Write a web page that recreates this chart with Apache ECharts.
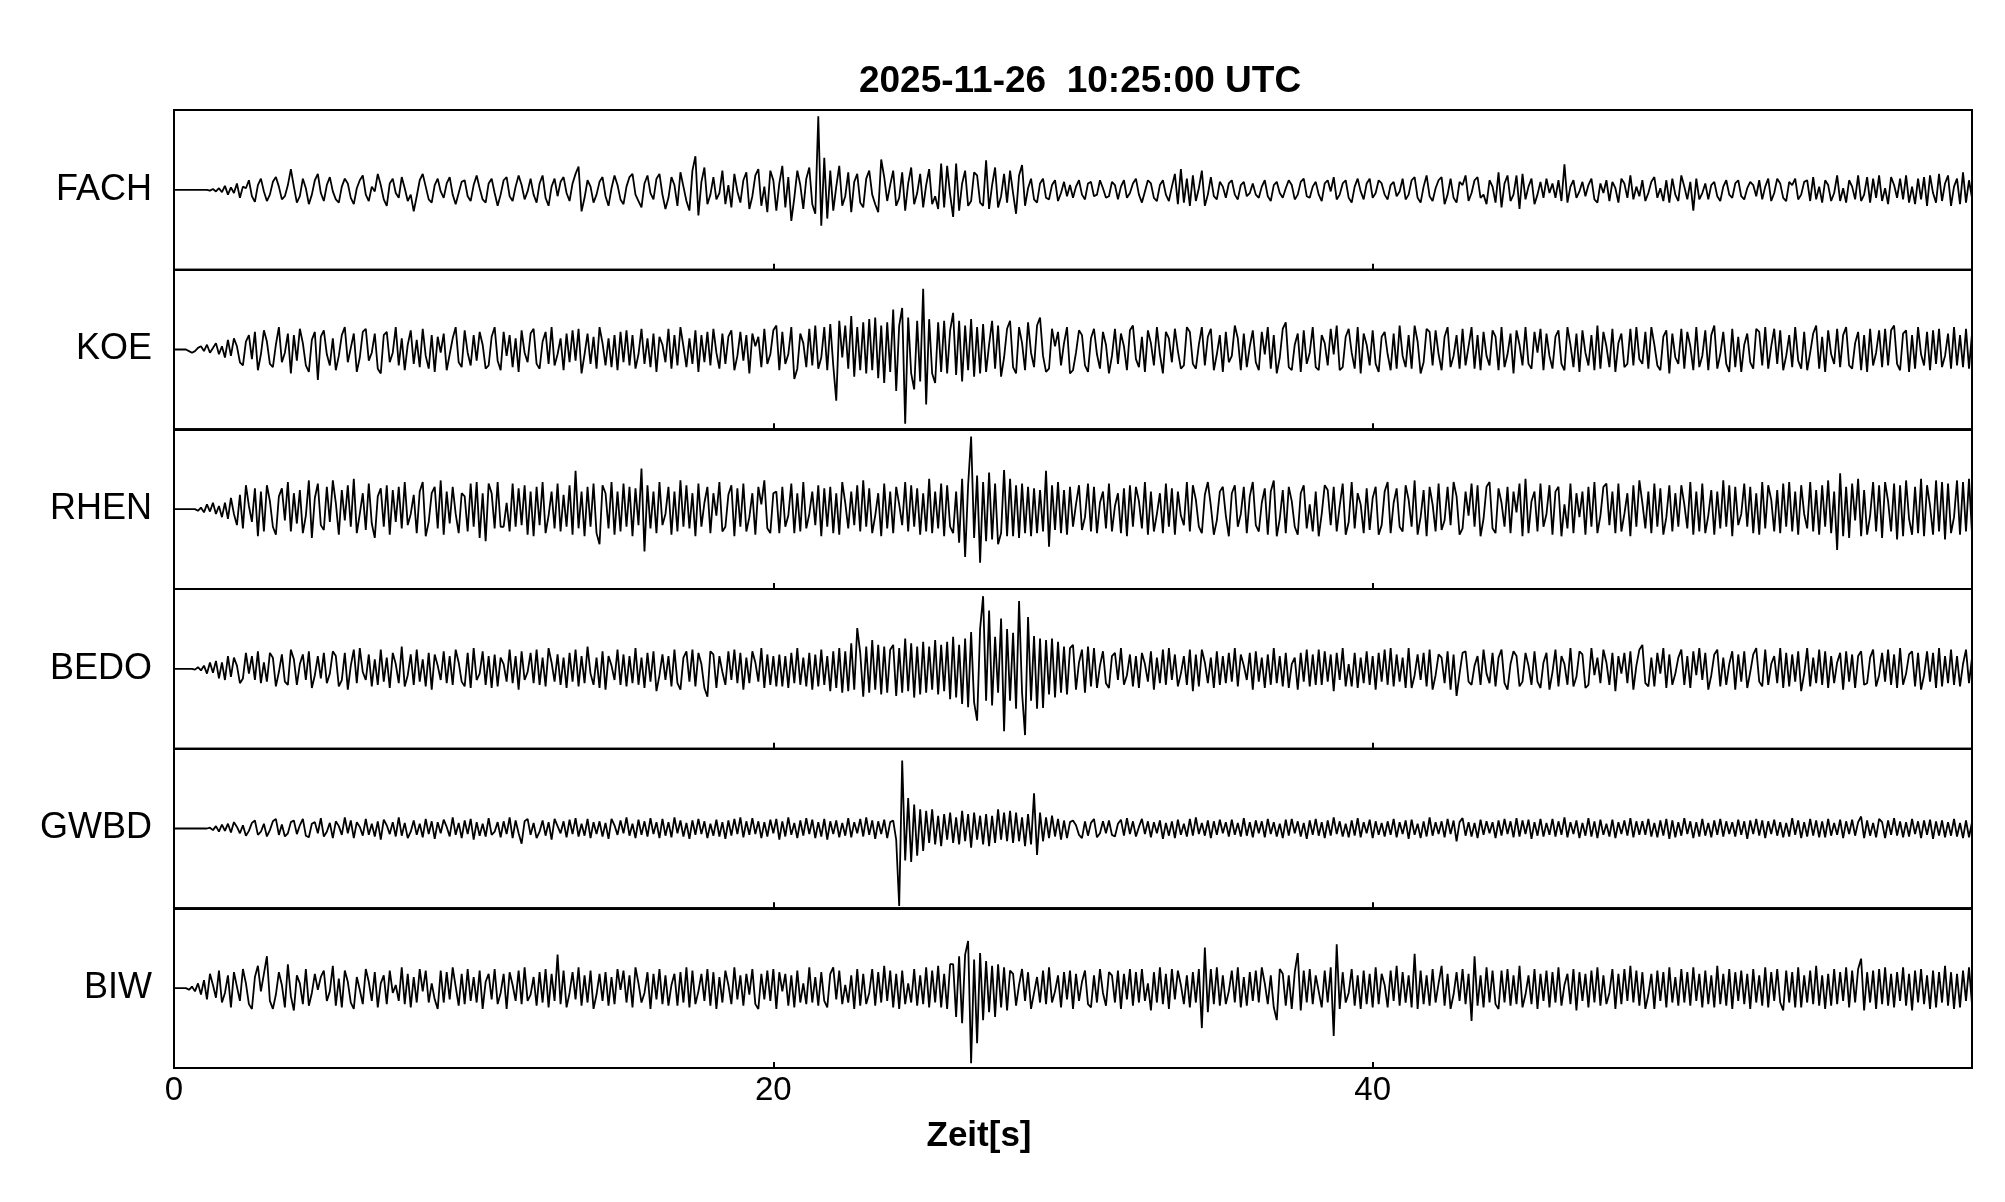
<!DOCTYPE html>
<html><head><meta charset="utf-8">
<script src="https://cdn.jsdelivr.net/npm/echarts@6/dist/echarts.min.js"></script>
<style>html,body{margin:0;padding:0;background:#fff}#c{width:2005px;height:1202px}</style>
</head><body><div id="c"></div>
<script>
const titleText = '2025-11-26  10:25:00 UTC';
const xAxisName = 'Zeit[s]';
const stations = ['FACH', 'KOE', 'RHEN', 'BEDO', 'GWBD', 'BIW'];
const DT = 0.1; // sample spacing in seconds
const xMin = 0, xMax = 60, xStep = 20;

const fach = [
0,0,0,0,0,0,0,0,0,0,
0,0,-1,1,-2,2,-3,5,-6,3,
-4,8,-10,4,2,12,-8,-15,6,14,
-2,-14,-6,10,16,4,-12,-8,6,26,
4,-16,-8,14,2,-18,-6,12,20,-4,
-14,6,16,-2,-12,-16,4,14,8,-10,
-18,2,12,18,-6,-14,4,-2,20,6,
-12,-20,8,14,-4,-10,16,2,-14,-6,
-27,-8,12,20,4,-12,-16,6,14,-2,
-10,8,16,-6,-18,-4,10,12,-8,-14,
6,18,2,-12,-16,8,14,-4,-20,-6,
12,16,-8,-14,4,18,6,-12,-2,14,
-6,-16,8,18,-10,-20,4,14,-8,10,
16,-4,-14,8,20,29,-27,-10,12,4,
-16,-6,10,16,-8,-20,2,18,6,-12,
-18,4,16,20,-6,-14,-22,8,18,-4,
-12,14,20,-6,-24,-10,16,6,-20,22,
4,-14,-26,24,42,-32,10,28,-18,-6,
16,-12,-4,24,-18,6,-22,20,-2,-16,
12,22,-24,-8,18,26,-20,4,-28,24,
12,-26,8,30,-22,16,-39,-10,24,6,
-24,14,28,-18,-30,92,-45,40,-36,24,
-26,4,30,-20,-8,22,-28,10,20,-16,
-22,14,24,-6,-18,-28,38,16,-14,6,
24,-20,-10,22,-26,8,28,-18,-4,20,
-22,6,26,-18,-8,-24,33,-22,30,-6,
-34,33,-26,8,24,-20,-14,22,18,-16,
-20,37,-24,6,28,-22,-8,20,-16,24,
-4,-30,18,31,-20,2,14,-12,-16,8,
14,-10,-12,6,12,-14,-4,10,-8,6,
-10,4,12,-6,-12,8,10,-8,-6,12,
2,-10,-8,10,6,-12,4,12,-10,-4,
8,14,-6,-16,-2,12,8,-10,-14,6,
12,-6,-14,4,20,-18,26,-16,14,-20,
18,-14,2,24,-20,-6,16,-8,-12,10,
4,-10,8,12,-6,-12,6,10,-8,-4,
8,-6,-10,4,12,-8,-14,6,10,-4,
-10,2,12,6,-12,-6,10,14,-8,-10,
4,10,-6,-14,8,12,-2,16,-12,-6,
8,12,-10,-16,4,14,-2,-12,8,14,
-10,-4,12,8,-6,-12,6,10,-8,-2,
14,-12,-6,12,16,-10,-16,4,18,-8,
-14,2,12,16,-18,-6,14,-10,-16,10,
6,18,-14,-4,12,16,-10,-6,-18,12,
4,-16,22,-22,8,18,-14,-6,18,-24,
20,-12,4,14,-18,-6,10,-10,14,-4,
8,-10,12,-14,32,-16,4,12,-10,-2,
10,-8,6,14,-12,-16,8,-4,12,-14,
10,2,-16,14,8,-10,18,-12,4,-8,
12,-14,-4,10,16,-10,2,-14,12,-16,
14,-6,-14,18,4,-12,10,-26,14,-12,
-4,8,-12,6,10,-8,-14,4,12,-6,
-10,8,12,-8,-12,2,10,6,-8,12,
-12,4,14,-14,-4,14,8,-10,-14,10,
6,14,-12,-6,10,12,-14,16,-12,4,
-16,12,6,-14,-4,18,-14,2,-16,12,
4,-12,18,-14,-6,16,-16,14,-10,18,
-14,2,-18,16,6,-10,14,-12,18,-16,
4,-18,14,-12,16,-20,18,-4,-16,20,
-14,8,18,-20,4,14,-18,22,-16,12,
-10];

const koe = [
0,0,0,0,0,-2,-4,-2,2,4,
-2,6,-4,2,8,-6,4,-10,12,-8,
14,4,-16,-20,10,18,-12,22,-26,-6,
24,10,-18,-22,6,28,-16,-4,20,-30,
18,-14,26,8,-20,-28,12,22,-38,16,
24,-6,-20,14,-26,-8,18,28,-16,2,
20,-28,-10,22,26,-14,-4,20,-24,-30,
18,22,-16,-4,28,-20,14,-26,6,24,
-18,12,-22,26,-8,-24,18,-28,16,-4,
20,-26,-6,14,28,-16,-22,24,-4,-20,
18,-14,22,6,-24,-20,16,28,-14,-26,
22,-8,18,-22,14,-28,24,-4,-16,20,
26,-18,-24,10,22,-18,28,-20,-6,14,
-26,20,-16,24,-14,26,-30,-6,20,-18,
16,-24,28,8,-20,14,-22,18,-26,22,
-16,24,-20,18,-24,-6,26,-18,14,-22,
20,-28,16,6,-16,26,-24,18,-20,28,
4,-22,14,-18,24,-28,18,-16,22,-20,
26,-4,-24,20,-18,16,24,-26,-8,22,
-14,18,-30,20,4,16,-22,26,-18,-6,
24,30,-26,22,-18,-6,28,-37,-24,20,
8,-22,26,-20,30,-24,-10,28,-26,32,
-20,-64,36,-10,30,-24,42,-34,28,-26,
34,-30,38,-26,40,-36,30,-42,34,-28,
50,-52,30,52,-93,40,-30,-50,36,-40,
76,-69,38,-30,-42,34,-28,36,-30,24,
46,-32,36,-40,30,-26,38,-34,28,-30,
32,-28,6,36,-24,30,-34,-10,26,36,
-22,-30,28,8,-26,34,-4,-22,30,40,
-8,-28,-24,26,4,22,-20,8,28,-30,
-26,-4,24,18,-20,-28,14,26,-6,-24,
22,6,-30,-8,26,-18,20,4,-26,24,
30,-12,-22,16,-28,24,8,-20,28,-6,
-30,22,14,-16,26,-2,-24,-20,28,22,
-18,-24,6,28,-20,16,26,-26,-6,18,
-28,22,-16,-8,30,14,-26,20,-22,4,
24,-16,-26,22,-6,28,-24,18,-30,-10,
26,34,-22,-26,6,20,-28,24,-18,-4,
28,-22,-26,18,8,-20,26,-6,30,-26,
-22,16,26,-4,-24,28,-30,20,6,-20,
24,-18,-28,16,22,-6,-26,20,-24,30,
-8,-22,18,-24,30,10,-30,-16,26,22,
-20,24,-6,-26,16,28,-22,-8,18,-24,
26,-20,4,28,-24,18,-26,22,-8,-20,
24,16,-26,28,-22,-6,20,-30,24,6,
-20,28,-18,-24,22,-4,26,-26,20,-8,
-24,16,24,-18,-26,28,6,-22,20,-28,
24,-4,-20,18,-26,30,-24,22,4,-22,
26,-28,8,20,-22,-18,26,-20,28,-12,
-18,22,-24,28,6,-20,-26,16,24,-30,
20,-10,-18,26,-24,22,4,-26,28,-22,
-8,24,-26,18,30,-24,-6,22,-18,-28,
26,-22,16,-28,6,20,-16,-24,26,22,
-20,28,-24,4,26,-18,24,-26,-8,18,
-22,28,-14,-24,22,-26,-4,20,30,-24,
16,-28,24,-6,-18,26,-22,18,28,-20,
-24,8,22,-26,18,-28,26,-20,-4,24,
-22,26,-20,24,30,-18,-26,20,24,-28,
18,-24,28,-6,-20,22,-26,24,-18,26,
-22,-8,20,-24,28,-20,18,-22,26,-24,
20];

const rhen = [
0,0,0,0,0,0,0,0,-2,2,
-4,6,-3,8,-6,4,-10,8,-12,14,
-6,-20,18,-24,30,4,-16,26,-34,22,
-28,30,10,-22,-32,16,26,-14,34,-28,
20,-18,24,-30,-8,36,-36,14,32,-20,
-26,28,-16,36,8,-32,24,-14,30,-22,
38,-30,-6,20,-26,32,-18,-36,16,26,
-22,30,-32,24,-16,28,-24,34,-20,-6,
18,-30,22,34,-34,-16,20,28,-24,36,
-32,22,-18,28,-6,-30,20,16,-28,32,
-22,34,-36,20,-40,32,20,-24,34,-22,
-22,8,-28,32,-22,26,-20,30,-32,22,
-34,28,-20,34,-30,-8,22,-24,32,-28,
18,-22,30,-32,48,-24,22,-34,28,-22,
32,-30,-44,30,20,-24,34,-32,22,-28,
32,-22,28,-34,26,-20,51,-53,30,-24,
22,-30,34,-20,-6,28,-32,22,-28,36,
-22,30,-24,20,-34,32,-22,8,28,-30,
20,-8,34,-28,-22,18,30,-34,26,-22,
32,-28,-10,20,-32,28,6,36,-24,-30,
20,22,-30,28,-22,-8,32,-30,20,-28,
34,-24,-6,22,-20,30,-34,26,-22,28,
-30,20,-32,34,8,-24,22,-20,30,-28,
36,-22,26,-30,-8,20,-34,32,-24,22,
-30,28,6,-20,34,-28,30,-22,26,-32,
20,-28,38,-30,22,-24,32,-34,30,-22,
-30,22,-42,38,-60,30,91,-36,42,-67,
34,-40,46,-38,32,-44,-30,49,-34,38,
-34,30,-36,32,-30,28,-34,26,-30,24,
-28,48,-47,30,-26,34,-30,24,-32,28,
-22,6,30,-26,-10,32,-28,28,-30,8,
22,-24,32,-28,4,20,-30,26,-34,30,
-22,28,10,-24,34,-32,22,-28,-6,20,
-30,32,-22,26,-32,22,-8,-20,34,-28,
30,12,-22,-30,18,34,4,-32,-14,22,
28,-8,-34,20,30,-22,-6,28,-30,16,
34,-20,-28,8,26,-32,22,36,-34,-12,
24,-30,28,10,-22,-32,20,30,-24,6,
-28,22,-34,-6,30,24,-20,28,-28,4,
32,-32,-16,34,-24,20,6,-30,26,-26,
14,28,-32,-20,22,34,-30,8,26,-22,
-28,30,12,-22,36,-32,-10,24,-34,28,
6,-28,32,-26,-14,28,-20,34,16,-32,
-24,22,-8,32,-22,30,-34,-12,28,34,
-24,-30,26,8,-22,28,-30,22,-4,32,
-34,38,-30,10,22,-28,32,-22,-6,30,
-32,22,28,-34,6,-24,32,-30,20,-10,
22,-32,28,-22,34,-30,-8,28,32,-20,
22,-30,32,-28,-6,20,-34,30,-22,36,
8,-24,22,-30,32,-22,26,-32,-10,30,
-28,20,-22,30,6,-24,34,-32,22,-28,
32,-30,-8,24,-32,22,-24,36,-22,30,
-34,28,-20,-6,32,-22,28,-30,20,-32,
34,-24,30,12,-28,24,-30,32,-22,34,
-28,22,-32,30,-6,-24,34,-28,24,-32,
30,-22,36,-30,22,-51,45,-34,28,-36,
32,-14,38,-34,24,-32,-8,34,-28,30,
-36,34,10,-28,32,-38,30,-34,36,-12,
-32,28,-30,38,-34,30,4,-32,36,-28,
34,-38,32,-30,-10,36,-32,34,-28,38,
-30];

const bedo = [
0,0,0,0,0,0,0,-1,2,-2,
4,-6,8,-5,10,-12,8,-14,16,-10,
14,4,-18,-12,20,-6,16,-14,22,-18,
8,-16,20,14,-22,-4,18,-16,-20,24,
12,-20,6,18,-14,22,-24,-8,16,-12,
20,-18,-6,22,16,-22,-14,20,-26,4,
24,-18,26,-4,-14,18,-22,12,-20,24,
-16,14,-24,20,6,-18,28,-22,-8,18,
-20,24,-16,12,-22,20,-26,18,4,-14,
22,-18,16,-20,24,8,-16,-22,20,-24,
26,-14,-6,22,-20,16,-24,18,-22,14,
6,-16,24,-18,16,-26,22,-14,-4,20,
-18,24,-20,14,-22,26,8,-16,18,-20,
14,-24,20,-16,24,-22,16,-18,28,-6,
-20,14,-24,22,-26,16,4,-14,24,-20,
18,-22,16,-18,26,-20,14,-24,20,-16,
22,-28,-8,18,-14,16,-22,24,-18,-26,
14,22,-16,24,-22,20,6,-24,-35,22,
18,-24,16,-4,-20,22,-14,24,-18,20,
-26,14,-18,22,8,-16,26,-24,18,-20,
16,-22,18,-22,16,-24,20,-18,26,-20,
14,-22,20,-26,18,-22,24,-20,16,-28,
22,-24,26,-30,22,-28,32,-26,51,20,
-35,28,-30,36,-26,30,-32,28,-30,24,
30,-34,26,-30,38,-28,32,-36,28,-32,
34,-30,28,-26,36,-32,30,-28,34,-38,
40,-36,30,-44,38,-48,46,-42,-65,50,
91,-40,73,-46,40,-30,63,-78,50,-40,
45,-50,85,-30,-83,65,-40,41,-50,38,
-49,36,-32,38,-36,34,-30,28,-32,26,
30,-26,8,24,-30,28,-22,26,-24,4,
22,-18,-24,16,20,-14,26,-20,-8,18,
-22,16,-24,20,6,-16,22,-26,14,-18,
24,-20,26,-14,18,-22,-6,16,-20,24,
-28,18,-22,24,8,-18,14,-24,22,-20,
16,-18,20,-16,26,-22,18,4,-14,20,
-26,22,-16,14,-24,18,-20,26,-18,16,
-22,20,-24,6,14,-26,20,-16,24,-22,
18,-20,24,-20,22,-16,18,-28,20,-14,
26,-22,6,-22,20,-24,14,-18,22,-20,
16,-26,20,-16,24,-20,26,-22,18,-16,
14,-24,26,-24,-8,18,-14,20,-22,24,
-26,-8,18,14,-18,22,-26,18,-34,-6,
20,22,-16,-20,4,16,-20,24,-6,-18,
20,-22,14,24,-18,-26,6,22,16,-22,
-16,20,4,-20,22,-16,-24,8,20,-26,
-4,24,-22,16,6,-20,26,-22,-10,22,
18,-24,-20,26,-8,14,-18,24,8,-20,
20,-28,16,-6,20,-18,22,-26,4,24,
30,-18,-22,14,-22,20,-6,26,-24,18,
-20,-6,14,24,-20,16,-24,22,-8,26,
-14,20,-26,-8,18,24,-22,14,-20,6,
22,-26,18,-16,22,-24,-4,18,26,-16,
-22,24,-20,6,16,-18,26,-24,20,-22,
18,-16,22,-28,-6,26,-22,14,-18,24,
-20,22,-24,16,-18,8,20,-26,22,-16,
18,-24,16,22,-20,-18,14,24,-22,-8,
20,-16,24,-20,18,-24,26,-20,-6,18,
22,-22,20,-26,-8,22,-16,20,-24,26,
-22,16,-18,24,-20,16,-22,6,24,-18,
14];

const gwbd = [
0,0,0,0,0,0,0,0,0,0,
0,0,1,-2,3,-4,5,-3,6,-5,
8,2,-6,4,-9,-3,7,10,-8,-4,
6,-10,-2,9,12,-8,5,-10,-6,8,
10,-7,4,12,-9,-11,6,8,-6,13,
-10,-4,7,-12,9,3,-8,14,-6,10,
-12,8,2,-9,12,-8,6,-10,9,-14,
11,4,-7,8,-10,14,-9,7,-12,-4,
10,-8,6,-11,12,-7,9,-13,8,-6,
11,2,-10,14,-8,7,-12,10,-7,12,
-14,8,-9,6,-10,13,-8,-4,8,-11,
9,-7,14,-12,10,-6,-19,9,12,-8,
7,-12,-4,10,-9,8,-14,12,3,-6,
9,-11,11,-7,13,-10,6,-9,12,-12,
8,-7,9,-10,7,-13,12,4,-8,10,
-6,14,-9,6,-12,11,-8,9,-10,13,
-7,8,-12,12,-9,8,-11,14,-6,10,
-10,7,-13,10,-8,12,-7,9,-12,6,
-9,11,-10,8,-13,10,-9,12,-7,14,
-11,9,-8,13,-7,9,-12,8,-10,11,
-6,12,-14,9,-10,14,-8,7,-12,10,
-9,13,-7,11,-12,8,-10,12,-14,9,
-7,10,-11,7,-9,13,-11,8,-6,12,
-10,14,-8,10,-13,9,-7,11,-12,8,
10,-14,-97,85,-40,38,-42,30,-34,24,
-28,22,-18,24,-20,16,-22,18,-14,20,
-18,14,-20,22,-16,18,-24,20,-14,16,
-20,18,-22,16,-18,24,-14,20,-16,22,
-18,20,-16,14,-22,18,-20,44,-33,20,
-16,14,-12,16,-10,12,-14,10,-12,8,
10,4,-8,-12,9,-9,7,12,-11,-6,
9,-6,10,-8,-10,6,11,-9,13,-7,
9,-10,2,12,-7,9,-11,8,-6,10,
-13,7,-9,9,-12,11,-8,6,-10,12,
-9,14,-7,7,-9,10,-12,9,-8,11,
-6,8,-10,11,-8,7,-10,13,-9,8,
-11,10,-6,9,-11,12,-7,8,-10,6,
-12,11,-9,12,-6,9,-10,7,-13,10,
-8,12,-9,8,-12,10,-9,14,-7,9,
-10,6,-11,10,-9,13,-11,8,-6,11,
-12,9,-8,7,-10,9,-8,12,-11,8,
-7,10,-13,11,-8,6,-12,9,-10,14,
-9,8,-7,9,-11,12,-7,10,-16,8,
13,-9,8,-10,7,-12,11,-8,9,-6,
8,-12,10,-9,12,-7,9,-11,13,-10,
10,-7,11,-13,8,-9,12,-10,7,-8,
12,-10,9,-8,14,-11,8,-7,10,-12,
7,-9,13,-10,9,-12,11,-8,6,-10,
11,-12,8,-7,10,-9,13,-11,9,-8,
9,-8,12,-10,7,-11,10,-9,12,-13,
10,-11,8,-9,13,-7,9,-12,8,-10,
12,-9,7,-11,10,-8,12,-10,9,-7,
8,-10,11,-8,9,-13,10,-7,12,-9,
10,-12,9,-7,11,-9,8,-11,7,-10,
13,-8,10,-12,8,-10,12,-9,10,-11,
9,-11,12,-9,7,-8,11,-12,9,-7,
11,-9,8,15,-12,10,-9,7,-11,12,
8,-12,10,-8,13,-9,9,-11,8,-10,
12,-7,9,-12,10,-8,11,-13,9,-9,
10,-11,8,-9,12,-10,7,-12,10,-11,
8];

const biw = [
0,0,0,0,0,-2,2,-4,6,-8,
10,-14,18,4,-12,22,-18,-6,16,-24,
20,2,-16,24,6,-20,-26,14,28,-4,
18,40,-16,-26,-8,20,4,-24,30,-10,
-28,16,6,-20,24,-22,-6,18,-2,14,
22,-16,-4,28,-22,12,-24,22,8,-18,
-26,14,-2,-20,24,8,-16,20,-24,6,
16,-20,22,-6,4,-16,26,-20,18,-24,
14,-18,24,-4,22,-18,6,-14,-26,22,
-18,20,-14,26,2,-22,18,-20,24,-16,
14,-18,22,-26,8,18,-14,24,-20,-6,
18,-26,20,4,-16,22,-20,26,-16,-8,
14,-22,20,-18,24,-24,18,-16,42,-20,
22,-24,-6,20,-14,26,-22,16,-18,22,
-26,-8,18,-16,20,-22,14,-20,24,-2,
22,-18,16,-24,26,6,-18,-6,20,-26,
18,-14,24,-20,16,-22,4,18,-22,20,
-18,26,-24,22,-20,-4,18,-16,24,-22,
20,-26,14,-18,22,4,-20,26,-14,16,
-22,18,-8,24,-20,-26,18,-14,22,-16,
24,-26,20,-4,18,-22,16,-24,22,-18,
6,-20,26,-18,14,-22,20,-16,-24,18,
26,-14,22,-20,4,-18,16,-26,24,-22,
18,-20,-6,24,-22,20,-18,28,-16,22,
-24,18,-26,22,-20,6,-18,24,-22,16,
-20,26,-24,22,-18,28,-24,18,-26,30,
30,-36,40,-44,42,59,-94,36,-69,44,
-40,34,-30,28,-36,30,-24,26,-28,22,
18,-22,4,24,-16,20,-26,-6,14,-18,
22,-20,26,-18,-4,16,-24,20,-14,22,
-26,18,-16,8,22,-20,-24,16,-18,24,
-6,-22,20,16,-18,22,-26,18,-14,24,
-22,20,-18,24,-16,6,-28,20,-18,26,
-20,18,-26,24,-14,22,4,-20,16,-24,
20,-18,24,-50,51,-30,24,-20,26,-22,
16,-20,-4,22,-18,26,-24,14,-22,20,
-16,22,-18,26,6,-20,16,-24,-40,24,
18,-22,16,-26,20,44,-28,22,-18,24,
-20,16,-4,-24,22,-18,26,-60,55,-26,
20,-18,-6,24,-22,16,-26,22,-20,18,
-24,26,-20,18,4,-24,22,-16,28,-22,
20,-18,16,-24,43,-26,22,-20,16,-22,
24,-18,6,28,-22,18,-26,-8,20,-16,
24,-20,18,-41,40,-22,16,-24,26,-18,
22,-20,-26,22,-18,24,-22,16,-20,28,
-24,-8,16,-20,24,-26,18,-16,22,-24,
20,-18,26,-22,4,18,-20,24,-28,20,
-16,18,-24,22,-18,26,-22,16,-20,-6,
24,-26,18,-20,24,-16,28,-18,22,-22,
20,-26,-8,18,-26,22,-16,20,-24,26,
-18,14,-22,24,-18,20,-22,26,-16,18,
-24,22,-20,16,-24,28,-20,18,-22,24,
-26,20,-16,22,-20,18,-26,24,-18,16,
-22,26,-24,20,-16,24,-18,-28,22,-18,
20,-24,26,-24,16,-18,22,-20,28,-22,
16,-26,18,-22,24,-20,20,-16,26,-24,
22,-18,24,37,-28,20,-18,22,-26,24,
-20,26,-22,18,-24,20,-16,26,-22,18,
-28,22,-18,24,-20,16,-26,22,-24,20,
-18,28,-22,20,-26,18,-24,22,-16,26,
-20];

const traces = [fach, koe, rhen, bedo, gwbd, biw];

const chart = echarts.init(document.getElementById('c'), null, {renderer: 'canvas'});
const L = 174, R = 1972, T = 110, B = 1068;
const H = (B - T) / stations.length;
const FONT = '"Liberation Sans", Arial, Helvetica, sans-serif';

const grids = [], xAxes = [], yAxes = [], series = [];
stations.forEach((name, i) => {
  const last = i === stations.length - 1;
  grids.push({left: L, width: R - L, top: T + i * H, height: H, show: true,
    borderColor: '#000', borderWidth: 2, backgroundColor: 'transparent', containLabel: false});
  xAxes.push({type: 'value', gridIndex: i, min: xMin, max: xMax, interval: xStep,
    axisLine: {show: true, onZero: false, lineStyle: {color: '#000', width: 2}},
    axisTick: {show: true, inside: true, length: 6, lineStyle: {color: '#000', width: 2}},
    splitLine: {show: false},
    axisLabel: {show: last, showMaxLabel: false, color: '#000', fontSize: 33, fontFamily: FONT, margin: 6}});
  yAxes.push({type: 'value', gridIndex: i, min: -100, max: 100, interval: 100,
    axisLine: {show: false}, axisTick: {show: false}, splitLine: {show: false},
    axisLabel: {show: true, color: '#000', fontSize: 36, fontFamily: FONT, margin: 22,
      formatter: v => (v === 0 ? name : '')}});
  series.push({type: 'line', xAxisIndex: i, yAxisIndex: i,
    data: traces[i].map((v, k) => [Math.round(k * DT * 100) / 100, v]),
    showSymbol: false, symbol: 'none', clip: true,
    lineStyle: {color: '#000', width: 1.8}, animation: false});
});

chart.setOption({
  backgroundColor: '#fff',
  animation: false,
  grid: grids, xAxis: xAxes, yAxis: yAxes, series: series,
  graphic: [
    {type: 'text', x: 1080, y: 82, style: {text: titleText, fill: '#000',
      font: 'bold 37px ' + FONT, textAlign: 'center', textVerticalAlign: 'middle'}},
    {type: 'text', x: 979, y: 1136, style: {text: xAxisName, fill: '#000',
      font: 'bold 35px ' + FONT, textAlign: 'center', textVerticalAlign: 'middle'}}
  ]
});
</script>
</body></html>
